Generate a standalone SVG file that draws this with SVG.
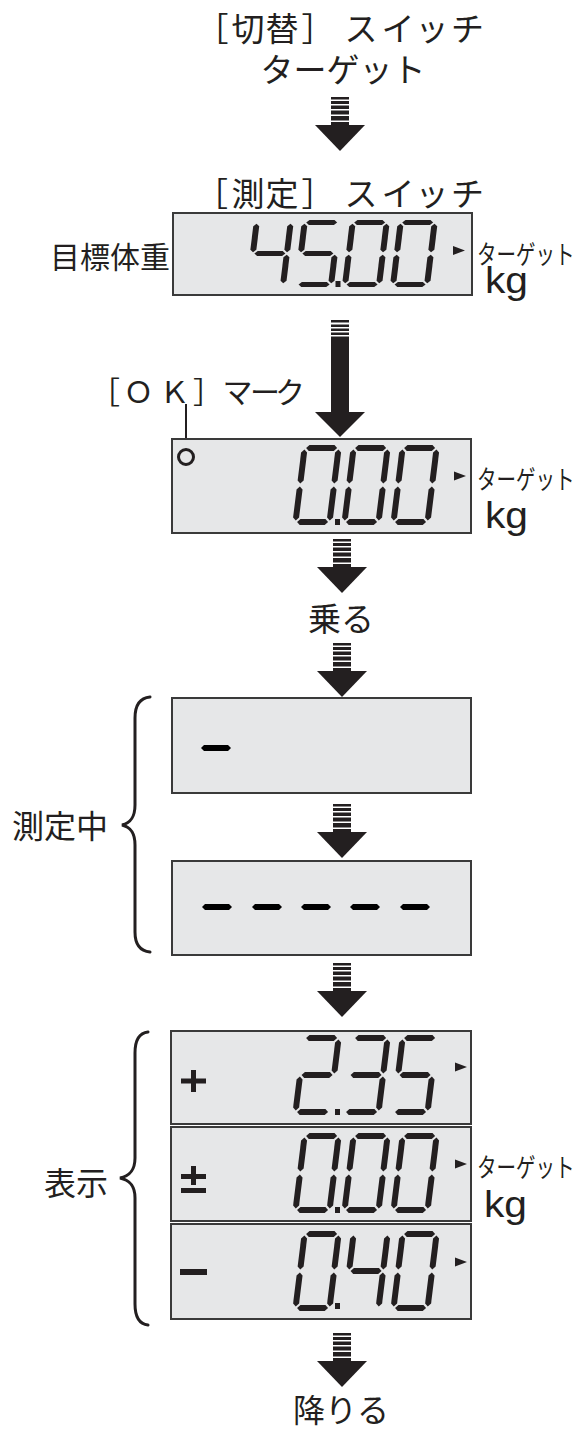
<svg xmlns="http://www.w3.org/2000/svg" xmlns:xlink="http://www.w3.org/1999/xlink" width="586" height="1429" viewBox="0 0 586 1429">
<style>
.t{font-family:"Noto Sans CJK JP","Noto Sans CJK SC",sans-serif;fill:#231f20}
.m{text-anchor:middle}
.kg{font-family:"Liberation Sans",Arial,sans-serif;fill:#231f20;font-size:37px}
.tg{font-family:"Noto Sans CJK JP",sans-serif;fill:#231f20;font-size:26px}
.box{fill:#e6e7e8;stroke:#3a3a3a;stroke-width:2}
.ink{fill:#231f20}
.brace{fill:none;stroke:#231f20;stroke-width:3;stroke-linecap:round}
</style>
<defs>
<polygon id="sa" points="4.5,3 7.5,0 32.5,0 35.5,3 32.5,6 7.5,6"/>
<polygon id="sg" points="4.5,40 7.5,37 32.5,37 35.5,40 32.5,43 7.5,43"/>
<polygon id="sd" points="4.5,77 7.5,74 32.5,74 35.5,77 32.5,80 7.5,80"/>
<polygon id="sf" points="3,4.5 6,7.5 6,35.5 3,38.5 0,35.5 0,7.5"/>
<polygon id="se" points="3,41.5 6,44.5 6,72.5 3,75.5 0,72.5 0,44.5"/>
<polygon id="sb" points="37,4.5 40,7.5 40,35.5 37,38.5 34,35.5 34,7.5"/>
<polygon id="sc" points="37,41.5 40,44.5 40,72.5 37,75.5 34,72.5 34,44.5"/>
<g id="d0" class="ink"><use href="#sa"/><use href="#sb"/><use href="#sc"/><use href="#sd"/><use href="#se"/><use href="#sf"/></g>
<g id="d2" class="ink"><use href="#sa"/><use href="#sb"/><use href="#sg"/><use href="#se"/><use href="#sd"/></g>
<g id="d3" class="ink"><use href="#sa"/><use href="#sb"/><use href="#sg"/><use href="#sc"/><use href="#sd"/></g>
<g id="d4" class="ink"><use href="#sf"/><use href="#sg"/><use href="#sb"/><use href="#sc"/></g>
<g id="d5" class="ink"><use href="#sa"/><use href="#sf"/><use href="#sg"/><use href="#sc"/><use href="#sd"/></g>
<g id="arrow" class="ink">
<rect x="-9" y="0" width="18" height="2.5"/>
<rect x="-9" y="4" width="18" height="3"/>
<rect x="-9" y="8.5" width="18" height="3.5"/>
<rect x="-9" y="13.5" width="18" height="4"/>
<rect x="-9" y="19" width="18" height="4.5"/>
<rect x="-9" y="25" width="18" height="3.5"/>
<polygon points="-25,28 25,28 0,54"/>
</g>
<polygon id="mark" points="0,-4.5 12,0 0,4.5"/>
<polygon id="dash" points="0,0 3,-3 27,-3 30,0 27,3 3,3"/>
</defs>

<g id="title">
<text class="t m" font-size="33" y="41" x="212 248 282 318 361 398 432 467.5">［切替］スイッチ</text>
<text class="t m" font-size="33" x="343" y="82">ターゲット</text>
</g>

<g id="connectors">
<use href="#arrow" x="340" y="97"/>
<g id="arrow2" class="ink">
<rect x="331" y="320" width="18" height="2.5"/>
<rect x="331" y="324.5" width="18" height="2.5"/>
<rect x="331" y="328.5" width="18" height="2.5"/>
<rect x="331" y="332.5" width="18" height="2.5"/>
<rect x="331" y="336.5" width="18" height="76"/>
<polygon points="315,412 365,412 340,437"/>
</g>
<use href="#arrow" x="342" y="539"/>
<use href="#arrow" x="342" y="643"/>
<use href="#arrow" x="342" y="804"/>
<use href="#arrow" x="342" y="963"/>
<use href="#arrow" x="342" y="1333"/>
</g>

<g id="switch-label">
<text class="t m" font-size="33" y="206" x="211.5 248 282 318 361 398 432 467.5">［測定］スイッチ</text>
</g>

<g id="display1">
<text class="t" font-size="30" x="50" y="268">目標体重</text>
<rect class="box" x="173" y="213" width="299" height="82"/>
<use href="#d4" transform="translate(254,220) skewX(-7) scale(1,0.8375)"/>
<use href="#d5" transform="translate(302,220) skewX(-7) scale(1,0.8375)"/>
<use href="#d0" transform="translate(350,220) skewX(-7) scale(1,0.8375)"/>
<use href="#d0" transform="translate(398,220) skewX(-7) scale(1,0.8375)"/>
<rect class="ink" x="335.5" y="281" width="5" height="6"/>
<use href="#mark" class="ink" x="453" y="250.5"/>
<text class="tg" transform="translate(477,264) scale(0.75,1)">ターゲット</text>
<text class="kg" x="485" y="293" textLength="43" lengthAdjust="spacingAndGlyphs">kg</text>
</g>

<g id="ok-label">
<text class="t m" font-size="30" y="403" x="105 138.5 174.5 208 237.5 265 290">［ＯＫ］マーク</text>
<line x1="186" y1="404" x2="186" y2="449" stroke="#231f20" stroke-width="2"/>
</g>

<g id="display2">
<rect class="box" x="172" y="439" width="299" height="94"/>
<circle cx="186" cy="457" r="7.5" fill="none" stroke="#231f20" stroke-width="3"/>
<use href="#d0" transform="translate(302,445) skewX(-7)"/>
<use href="#d0" transform="translate(351,445) skewX(-7)"/>
<use href="#d0" transform="translate(400,445) skewX(-7)"/>
<rect class="ink" x="335" y="519" width="5" height="6"/>
<use href="#mark" class="ink" x="454" y="476"/>
<text class="tg" transform="translate(477,489) scale(0.75,1)">ターゲット</text>
<text class="kg" x="485" y="528" textLength="43" lengthAdjust="spacingAndGlyphs">kg</text>
</g>

<g id="step-on">
<text class="t m" font-size="33" x="341" y="631">乗る</text>
</g>

<g id="measuring">
<text class="t" font-size="32" x="12" y="838">測定中</text>
<path class="brace" d="M150,697 C140,698 135,705 135,718 L135,805 C135,818 130,823 122,825 C130,827 135,832 135,845 L135,932 C135,945 140,951 150,952"/>
</g>

<g id="display3">
<rect class="box" x="172" y="698" width="299" height="95"/>
<use href="#dash" x="201" y="748"/>
</g>

<g id="display4">
<rect class="box" x="172" y="861" width="299" height="94"/>
<use href="#dash" x="202" y="907"/>
<use href="#dash" x="252" y="907"/>
<use href="#dash" x="301" y="907"/>
<use href="#dash" x="350" y="907"/>
<use href="#dash" x="400" y="907"/>
</g>

<g id="result">
<text class="t" font-size="32" x="44" y="1195">表示</text>
<path class="brace" d="M148,1032 C139,1033 135,1040 135,1053 L135,1158 C135,1171 129,1176 120,1178 C129,1180 135,1185 135,1198 L135,1304 C135,1317 139,1324 148,1325"/>
</g>

<g id="display5">
<rect class="box" x="171" y="1031" width="300" height="93"/>
<rect class="ink" x="181" y="1078.5" width="25" height="5"/>
<rect class="ink" x="191" y="1070" width="5" height="22"/>
<use href="#d2" transform="translate(302,1035) skewX(-7)"/>
<use href="#d3" transform="translate(351,1035) skewX(-7)"/>
<use href="#d5" transform="translate(400,1035) skewX(-7)"/>
<rect class="ink" x="335" y="1109" width="5" height="6"/>
<use href="#mark" class="ink" x="455" y="1067"/>
</g>

<g id="display6">
<rect class="box" x="171" y="1127" width="300" height="94"/>
<rect class="ink" x="181" y="1174" width="25" height="5"/>
<rect class="ink" x="191" y="1166" width="5" height="19"/>
<rect class="ink" x="181" y="1188" width="25" height="5"/>
<use href="#d0" transform="translate(302,1133) skewX(-7)"/>
<use href="#d0" transform="translate(351,1133) skewX(-7)"/>
<use href="#d0" transform="translate(400,1133) skewX(-7)"/>
<rect class="ink" x="335" y="1207" width="5" height="6"/>
<use href="#mark" class="ink" x="455" y="1164"/>
<text class="tg" transform="translate(477,1177) scale(0.75,1)">ターゲット</text>
<text class="kg" x="484" y="1217" textLength="43" lengthAdjust="spacingAndGlyphs">kg</text>
</g>

<g id="display7">
<rect class="box" x="171" y="1224" width="300" height="95"/>
<rect class="ink" x="180" y="1269" width="27" height="6"/>
<use href="#d0" transform="translate(302,1231) skewX(-7)"/>
<use href="#d4" transform="translate(351,1231) skewX(-7)"/>
<use href="#d0" transform="translate(400,1231) skewX(-7)"/>
<rect class="ink" x="335" y="1303" width="5" height="6"/>
<use href="#mark" class="ink" x="455" y="1262"/>
</g>

<g id="step-off">
<text class="t m" font-size="32" x="341" y="1422">降りる</text>
</g>
</svg>
